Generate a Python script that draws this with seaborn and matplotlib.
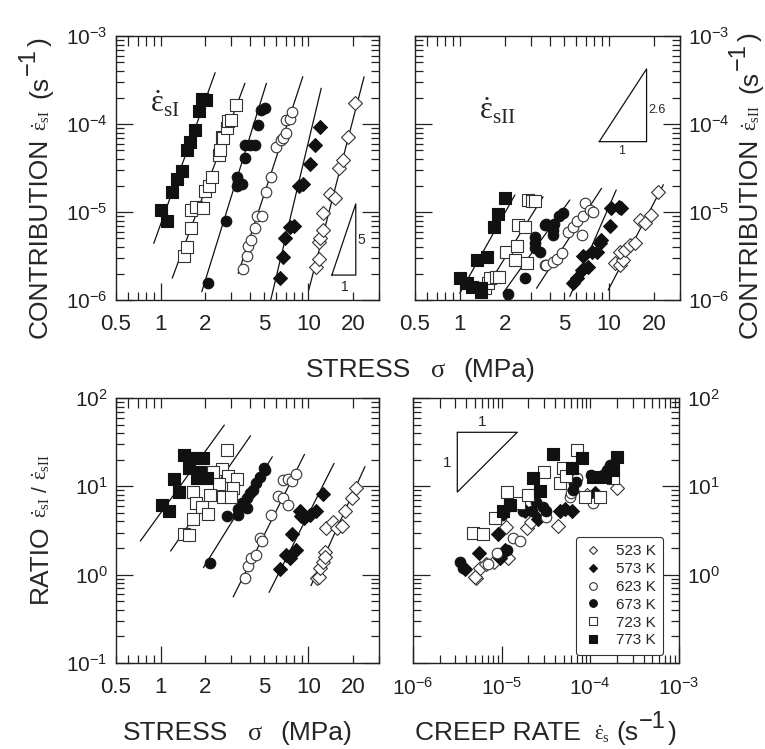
import numpy as np
import pandas as pd
import matplotlib
matplotlib.use("Agg")
import matplotlib.pyplot as plt
import seaborn as sns
from matplotlib.ticker import LogLocator, FixedLocator, FuncFormatter, NullFormatter, LogFormatterSciNotation
from matplotlib.lines import Line2D
from matplotlib.transforms import IdentityTransform

# ---------------- data ----------------
temps = ["523 K", "573 K", "623 K", "673 K", "723 K", "773 K"]

# top-left: contribution eps_sI vs stress
sI_sigma = {
    "773 K": [1.00, 1.11, 1.20, 1.29, 1.40, 1.50, 1.59, 1.72, 1.81, 1.90, 2.03],
    "723 K": [1.45, 1.51, 1.61, 1.61, 1.74, 1.93, 2.00, 2.14, 2.22, 2.50, 2.52, 2.59, 2.66, 2.80, 2.87, 2.98, 3.24],
    "673 K": [2.11, 2.77, 3.27, 3.33, 3.53, 3.27, 3.72, 3.72, 4.02, 4.34, 4.57, 4.81, 5.07],
    "623 K": [3.62, 3.82, 3.90, 4.12, 4.34, 4.46, 4.82, 5.20, 5.56, 6.07, 6.56, 6.70, 7.08, 7.10, 7.45, 7.77],
    "573 K": [6.39, 6.72, 6.97, 7.54, 8.05, 8.70, 9.16, 10.2, 11.0, 12.0],
    "523 K": [11.3, 11.7, 11.8, 11.9, 12.5, 12.5, 14.0, 15.2, 16.2, 17.0, 18.6, 20.7],
}
sI_rate = {
    "773 K": [1.05e-5, 7.9e-6, 1.7e-5, 2.37e-5, 2.9e-5, 5.1e-5, 6.2e-5, 8.5e-5, 1.4e-4, 1.9e-4, 1.85e-4],
    "723 K": [3.2e-6, 4.0e-6, 6.6e-6, 1.05e-5, 1.13e-5, 1.1e-5, 1.73e-5, 1.95e-5, 2.5e-5, 4.5e-5, 5.1e-5, 7.2e-5, 6.9e-5, 8.9e-5, 1.07e-4, 1.11e-4, 1.65e-4],
    "673 K": [1.58e-6, 7.9e-6, 1.95e-5, 2.2e-5, 2.1e-5, 2.5e-5, 4.1e-5, 5.7e-5, 5.7e-5, 5.7e-5, 9.8e-5, 1.44e-4, 1.53e-4],
    "623 K": [2.23e-6, 3.2e-6, 4.1e-6, 4.8e-6, 6.5e-6, 8.9e-6, 8.9e-6, 1.7e-5, 2.5e-5, 5.5e-5, 6.6e-5, 6.9e-5, 7.8e-5, 1.1e-4, 1.13e-4, 1.38e-4],
    "573 K": [1.8e-6, 3.1e-6, 5.0e-6, 6.7e-6, 6.9e-6, 1.95e-5, 2.1e-5, 3.5e-5, 5.7e-5, 9.3e-5],
    "523 K": [2.4e-6, 2.9e-6, 4.6e-6, 5.0e-6, 6.3e-6, 9.8e-6, 1.6e-5, 1.43e-5, 3.2e-5, 3.9e-5, 7.2e-5, 1.75e-4],
}
sI_line_sigma = {"773 K": [0.90, 2.34], "723 K": [1.20, 3.72], "673 K": [1.90, 5.20],
                 "623 K": [3.35, 9.16], "573 K": [5.56, 12.2], "523 K": [10.05, 23.8]}
sI_line_rate = {"773 K": [4.4e-6, 3.83e-4], "723 K": [1.77e-6, 2.9e-4], "673 K": [1.24e-6, 2.9e-4],
                "623 K": [2.0e-6, 3.45e-4], "573 K": [1.0e-6, 2.55e-4], "523 K": [1.3e-6, 3.45e-4]}

# top-right: contribution eps_sII vs stress
sII_sigma = {
    "773 K": [1.00, 1.11, 1.20, 1.38, 1.39, 1.31, 1.52, 1.70, 1.79, 2.00],
    "723 K": [1.47, 1.55, 1.59, 1.76, 1.84, 2.04, 2.34, 2.40, 2.46, 2.73, 2.80, 2.88, 3.03, 3.19],
    "673 K": [2.11, 2.73, 3.19, 3.19, 3.19, 3.44, 3.72, 3.80, 4.23, 4.23, 4.30, 4.64, 4.93],
    "623 K": [3.72, 3.80, 4.19, 4.46, 4.82, 5.34, 5.77, 6.07, 6.56, 6.73, 6.90, 7.45, 7.85],
    "573 K": [5.77, 6.07, 6.56, 7.27, 6.67, 7.65, 8.27, 8.70, 8.90, 10.1, 10.4, 11.6, 12.0],
    "523 K": [11.0, 11.8, 12.5, 11.8, 12.8, 13.8, 14.9, 16.1, 17.4, 19.3, 21.4],
}
sII_rate = {
    "773 K": [1.77e-6, 1.55e-6, 1.41e-6, 1.36e-6, 1.24e-6, 2.85e-6, 3.1e-6, 6.8e-6, 9.4e-6, 1.43e-5],
    "723 K": [1.36e-6, 1.55e-6, 1.77e-6, 1.84e-6, 1.84e-6, 3.5e-6, 2.85e-6, 4.1e-6, 7.1e-6, 6.8e-6, 2.6e-6, 1.37e-5, 1.32e-5, 1.32e-5],
    "673 K": [1.16e-6, 1.77e-6, 3.9e-6, 5.2e-6, 4.5e-6, 3.5e-6, 7.1e-6, 7.3e-6, 5.5e-6, 6.3e-6, 7.3e-6, 8.9e-6, 9.8e-6],
    "623 K": [2.5e-6, 2.5e-6, 2.7e-6, 2.95e-6, 3.4e-6, 6.0e-6, 6.8e-6, 7.8e-6, 5.5e-6, 8.9e-6, 1.26e-5, 1.05e-5, 1.0e-5],
    "573 K": [1.55e-6, 1.77e-6, 2.2e-6, 2.4e-6, 3.2e-6, 3.5e-6, 3.5e-6, 4.4e-6, 4.8e-6, 6.9e-6, 1.1e-5, 1.14e-5, 1.1e-5],
    "523 K": [2.6e-6, 2.5e-6, 2.85e-6, 3.5e-6, 3.7e-6, 4.2e-6, 4.4e-6, 8.1e-6, 7.5e-6, 9.2e-6, 1.7e-5],
}
sII_line_sigma = {"773 K": [1.0, 2.34], "723 K": [1.43, 3.62], "673 K": [1.95, 5.47],
                  "623 K": [3.27, 8.93], "573 K": [5.47, 11.2], "523 K": [9.9, 23.2]}
sII_line_rate = {"773 K": [1.2e-6, 1.56e-5], "723 K": [1.2e-6, 1.49e-5], "673 K": [1.2e-6, 1.37e-5],
                 "623 K": [1.36e-6, 1.86e-5], "573 K": [1.1e-6, 1.78e-5], "523 K": [1.3e-6, 2.04e-5]}

# bottom-left: ratio vs stress
ratio_sigma = {
    "773 K": [1.45, 1.66, 1.95, 1.55, 1.85, 1.76, 2.06, 1.24, 1.33, 1.03, 1.14],
    "723 K": [2.80, 2.59, 2.26, 2.87, 3.30, 2.50, 3.10, 1.66, 2.17, 2.66, 2.98, 1.74, 1.90, 2.08, 1.66, 1.45, 1.55],
    "673 K": [2.17, 2.83, 3.35, 3.86, 3.35, 3.53, 3.82, 4.02, 4.19, 4.41, 4.69, 4.99, 5.10],
    "623 K": [3.72, 3.92, 4.12, 4.39, 4.69, 4.85, 5.61, 6.23, 6.73, 7.27, 6.73, 7.27, 7.77, 8.27],
    "573 K": [6.46, 7.08, 7.50, 8.27, 7.77, 8.80, 9.40, 10.2, 11.3, 12.5, 8.9],
    "523 K": [11.5, 11.8, 12.0, 12.5, 13.0, 13.0, 13.1, 14.6, 15.7, 16.8, 17.7, 19.8, 20.9],
}
ratio_vals = {
    "773 K": [22.6, 20.7, 20.7, 16.0, 14.7, 12.3, 12.3, 12.0, 8.7, 6.1, 5.25],
    "723 K": [25.8, 15.7, 14.7, 13.2, 12.1, 10.5, 9.5, 8.6, 8.0, 7.6, 7.6, 6.4, 5.9, 4.9, 4.27, 2.86, 2.8],
    "673 K": [1.34, 4.65, 4.73, 5.63, 5.6, 6.4, 7.3, 8.3, 9.1, 10.8, 12.9, 16.0, 15.5],
    "623 K": [0.92, 1.26, 1.53, 1.67, 2.58, 2.4, 4.73, 7.8, 7.4, 6.1, 11.8, 12.1, 11.5, 13.7],
    "573 K": [1.16, 1.67, 1.53, 1.9, 2.86, 5.2, 4.35, 4.73, 5.2, 8.1, 4.6],
    "523 K": [0.91, 0.94, 1.18, 1.4, 1.82, 1.6, 3.34, 3.97, 3.34, 3.58, 5.2, 7.4, 9.7],
}
ratio_line_sigma = {"773 K": [0.73, 2.70], "723 K": [1.17, 4.06], "673 K": [1.95, 5.70],
                    "623 K": [3.1, 9.4], "573 K": [5.42, 14.9], "523 K": [10.4, 24.1]}
ratio_line_vals = {"773 K": [2.4, 49.4], "723 K": [1.85, 37.4], "673 K": [1.2, 21.6],
                   "623 K": [0.56, 23.0], "573 K": [0.63, 18.2], "523 K": [0.75, 16.7]}

# bottom-right: ratio vs creep rate
creep_rate = {
    "523 K": [5.2e-6, 5.0e-6, 5.7e-6, 6.6e-6, 8.2e-6, 1.19e-5, 1.12e-5, 1.91e-5, 2.12e-5, 4.3e-5, 9.1e-5, 1.98e-4],
    "573 K": [3.86e-6, 5.6e-6, 9.2e-6, 9.6e-6, 1.06e-5, 1.1e-5, 1.83e-5, 2.59e-5, 4.5e-5, 5.2e-5, 6.2e-5, 1.13e-4],
    "623 K": [7.1e-6, 8.8e-6, 1.35e-5, 1.61e-5, 3.2e-5, 5.9e-5, 6.0e-5, 7.0e-5, 1.06e-4],
    "673 K": [3.39e-6, 3.7e-6, 1.0e-5, 1.05e-5, 1.14e-5, 1.75e-5, 2.18e-5, 2.44e-5, 2.95e-5, 3.2e-5, 6.4e-5, 6.6e-5, 6.9e-5, 1.03e-4, 1.4e-4, 1.53e-4, 1.66e-4],
    "723 K": [4.7e-6, 6.1e-6, 8.4e-6, 1.16e-5, 1.24e-5, 1.58e-5, 2.0e-5, 3.0e-5, 4.5e-5, 4.95e-5, 7.0e-5, 8.7e-5, 1.28e-4, 1.81e-4, 5.3e-5],
    "773 K": [1.04e-5, 1.24e-5, 2.7e-5, 2.23e-5, 3.76e-5, 6.2e-5, 8.0e-5, 1.08e-4, 1.46e-4, 1.81e-4, 1.98e-4],
}
creep_ratio = {
    "523 K": [0.92, 0.95, 1.2, 1.31, 1.4, 1.55, 3.5, 3.34, 3.98, 3.58, 8.0, 9.5],
    "573 K": [1.16, 1.74, 2.86, 1.55, 1.82, 1.9, 5.25, 4.27, 5.25, 5.6, 5.25, 8.3],
    "623 K": [1.31, 1.74, 2.58, 2.4, 4.53, 7.6, 8.5, 12.3, 6.4],
    "673 K": [1.4, 1.2, 4.73, 5.2, 1.9, 5.25, 5.25, 6.6, 5.9, 5.2, 9.1, 11.0, 11.3, 13.4, 13.4, 15.3, 17.4],
    "723 K": [2.94, 2.86, 4.4, 8.7, 6.1, 6.4, 8.0, 14.7, 10.8, 16.3, 25.8, 7.6, 7.6, 12.3, 13.0],
    "773 K": [5.25, 6.1, 8.9, 12.3, 23.0, 16.0, 21.1, 12.9, 12.9, 15.3, 21.6],
}

# slope triangles (anchor, run end, slope)
tri_sI = dict(x0=14.4, x1=20.9, y0=1.92e-6, slope=5.0, label="5")
tri_sII = dict(x0=8.61, x1=17.9, y0=6.3e-5, slope=2.6, label="2.6")
tri_cr = dict(x0=3.16e-6, x1=1.5e-5, y0=40.9, slope=1.0)

# ---------------- style ----------------
sns.set_theme(style="ticks")
plt.rcParams["font.family"] = ["Liberation Sans", "DejaVu Sans"]
plt.rcParams["mathtext.fontset"] = "custom"
plt.rcParams["mathtext.rm"] = "Liberation Serif"
plt.rcParams["mathtext.it"] = "Liberation Serif:italic"
plt.rcParams["mathtext.bf"] = "Liberation Serif:bold"
plt.rcParams["mathtext.sf"] = "Liberation Sans"
plt.rcParams["axes.linewidth"] = 1.0
plt.rcParams["axes.edgecolor"] = "#222222"

mstyle = {
    "523 K": dict(marker="D", filled=False, s=50),
    "573 K": dict(marker="D", filled=True, s=50),
    "623 K": dict(marker="o", filled=False, s=58),
    "673 K": dict(marker="o", filled=True, s=58),
    "723 K": dict(marker="s", filled=False, s=64),
    "773 K": dict(marker="s", filled=True, s=64),
}

LOG_FS = 15
STRESS_FS = 16
LABEL_FS = 19
EPS_FS = 15
SUP_FS = 17

fig = plt.figure(figsize=(7.65, 7.49), dpi=100)
ax_tl = fig.add_axes([116/765, 1-300/749, 263/765, 264/749])
ax_tr = fig.add_axes([415/765, 1-300/749, 265/765, 264/749])
ax_bl = fig.add_axes([116/765, 1-663/749, 263/765, 265/749])
ax_br = fig.add_axes([413/765, 1-663/749, 266/765, 265/749])


def stress_fmt(v, pos):
    r = round(v, 6)
    lab = {0.5: "0.5", 1.0: "1", 2.0: "2", 5.0: "5", 10.0: "10", 20.0: "20"}
    return lab.get(r, "")


sci = LogFormatterSciNotation()


def make_yfmt(skip=()):
    def f(v, pos):
        if any(abs(v - s) / s < 1e-6 for s in skip):
            return ""
        return sci(v, pos)
    return FuncFormatter(f)


def setup(ax, xlim, ylim, stress_x, yright=False, yskip=()):
    ax.set_xscale("log")
    ax.set_yscale("log")
    ax.set_xlim(*xlim)
    ax.set_ylim(*ylim)
    if stress_x:
        ax.xaxis.set_major_locator(FixedLocator([1, 10]))
        ax.xaxis.set_minor_locator(LogLocator(base=10, subs=np.arange(2, 10), numticks=20))
        ax.xaxis.set_major_formatter(FuncFormatter(stress_fmt))
        ax.xaxis.set_minor_formatter(FuncFormatter(stress_fmt))
    else:
        ax.xaxis.set_major_locator(LogLocator(base=10, numticks=20))
        ax.xaxis.set_minor_locator(LogLocator(base=10, subs=np.arange(2, 10), numticks=20))
        ax.xaxis.set_major_formatter(LogFormatterSciNotation())
        ax.xaxis.set_minor_formatter(NullFormatter())
    ax.yaxis.set_major_locator(LogLocator(base=10, numticks=20))
    ax.yaxis.set_minor_locator(LogLocator(base=10, subs=np.arange(2, 10), numticks=20))
    ax.yaxis.set_major_formatter(make_yfmt(yskip))
    ax.yaxis.set_minor_formatter(NullFormatter())
    ax.tick_params(axis="both", which="both", direction="in", colors="#222222",
                   width=0.9, top=False, right=True, left=True, bottom=True)
    ax.tick_params(axis="y", which="both", labelsize=LOG_FS, pad=6)
    ax.tick_params(axis="x", which="both", labelsize=(STRESS_FS if stress_x else LOG_FS), pad=10)
    ax.tick_params(axis="both", which="major", length=12)
    ax.tick_params(axis="both", which="minor", length=6)
    if yright:
        ax.tick_params(axis="y", which="both", labelleft=False, labelright=True)
    # short ticks on top edge
    sec = ax.secondary_xaxis("top")
    if stress_x:
        sec.xaxis.set_major_locator(FixedLocator([1, 10]))
    else:
        sec.xaxis.set_major_locator(LogLocator(base=10, numticks=20))
    sec.xaxis.set_minor_locator(LogLocator(base=10, subs=np.arange(2, 10), numticks=20))
    sec.xaxis.set_major_formatter(NullFormatter())
    sec.xaxis.set_minor_formatter(NullFormatter())
    sec.tick_params(axis="x", which="both", direction="in", length=7, width=0.9, colors="#222222")
    sec.spines["top"].set_visible(False)
    for sp in ax.spines.values():
        sp.set_visible(True)
        sp.set_color("#222222")


def scatter_panel(ax, xs, ys):
    frames = []
    for t in temps:
        frames.append(pd.DataFrame({"x": xs[t], "y": ys[t], "T": t}))
    df = pd.concat(frames, ignore_index=True)
    for t in temps:
        st = mstyle[t]
        sub = df[df["T"] == t]
        sns.scatterplot(data=sub, x="x", y="y", marker=st["marker"], s=st["s"],
                        color=("#111111" if st["filled"] else "white"),
                        edgecolor=("#111111" if st["filled"] else "#333333"),
                        linewidth=0.8, ax=ax, legend=False, zorder=3)
    ax.set_xlabel("")
    ax.set_ylabel("")


def lines_panel(ax, lx, ly):
    for t in temps:
        ax.plot(lx[t], ly[t], color="#111111", lw=0.9, zorder=2)


def slope_triangle(ax, x0, x1, y0, slope):
    y1 = y0 * (x1 / x0) ** slope
    ax.plot([x0, x1, x1, x0], [y0, y0, y1, y0], color="#111111", lw=0.9)
    return y1


# ---- top-left
setup(ax_tl, (0.5, 30), (1e-6, 1e-3), True)
lines_panel(ax_tl, sI_line_sigma, sI_line_rate)
scatter_panel(ax_tl, sI_sigma, sI_rate)
slope_triangle(ax_tl, tri_sI["x0"], tri_sI["x1"], tri_sI["y0"], tri_sI["slope"])
ax_tl.text(0.934, 0.227, tri_sI["label"], transform=ax_tl.transAxes, fontsize=10, ha="center", va="center")
ax_tl.text(0.871, 0.05, "1", transform=ax_tl.transAxes, fontsize=10, ha="center", va="center")
ax_tl.text(0.13, 0.74, r"$\dot{\mathrm{\varepsilon}}_{\mathrm{sI}}$", transform=ax_tl.transAxes,
           fontsize=22, ha="left", va="center")

# ---- top-right
setup(ax_tr, (0.5, 30), (1e-6, 1e-3), True, yright=True)
lines_panel(ax_tr, sII_line_sigma, sII_line_rate)
scatter_panel(ax_tr, sII_sigma, sII_rate)
slope_triangle(ax_tr, tri_sII["x0"], tri_sII["x1"], tri_sII["y0"], tri_sII["slope"])
ax_tr.text(0.912, 0.72, tri_sII["label"], transform=ax_tr.transAxes, fontsize=9, ha="center", va="center")
ax_tr.text(0.78, 0.566, "1", transform=ax_tr.transAxes, fontsize=9, ha="center", va="center")
ax_tr.text(0.24, 0.715, r"$\dot{\mathrm{\varepsilon}}_{\mathrm{sII}}$", transform=ax_tr.transAxes,
           fontsize=22, ha="left", va="center")

# ---- bottom-left
setup(ax_bl, (0.5, 30), (0.1, 100), True)
lines_panel(ax_bl, ratio_line_sigma, ratio_line_vals)
scatter_panel(ax_bl, ratio_sigma, ratio_vals)

# ---- bottom-right
setup(ax_br, (1e-6, 1e-3), (0.1, 100), False, yright=True, yskip=(0.1,))
scatter_panel(ax_br, creep_rate, creep_ratio)
x0, x1, y0 = tri_cr["x0"], tri_cr["x1"], tri_cr["y0"]
y1 = y0 / (x1 / x0) ** tri_cr["slope"]
ax_br.plot([x0, x1, x0, x0], [y0, y0, y1, y0], color="#111111", lw=0.9)
ax_br.text(0.258, 0.911, "1", transform=ax_br.transAxes, fontsize=11, ha="center", va="center")
ax_br.text(0.127, 0.754, "1", transform=ax_br.transAxes, fontsize=11, ha="center", va="center")

handles = []
for t in temps:
    st = mstyle[t]
    handles.append(Line2D([], [], linestyle="none", marker=st["marker"],
                          markersize=(4.5 if st["marker"] == "D" else 5.5),
                          markerfacecolor=("#111111" if st["filled"] else "white"),
                          markeredgecolor=("#111111" if st["filled"] else "#333333"),
                          markeredgewidth=0.8, label=t))
leg = ax_br.legend(handles=handles, loc="lower right", bbox_to_anchor=(0.94, 0.03),
                   borderaxespad=0, fontsize=11, frameon=True, fancybox=True,
                   labelspacing=0.25, handletextpad=0.9, handlelength=1.2, borderpad=0.5)
leg.get_frame().set_edgecolor("#333333")
leg.get_frame().set_linewidth(0.8)
leg.get_frame().set_alpha(1)

# ---- axis titles, composed from pieces (pixel coordinates)
renderer = fig.canvas.get_renderer()
ident = IdentityTransform()


def chain_text(x, y, pieces, vertical):
    """pieces: (text, fontsize, gap_before_px, baseline_raise_px)"""
    pos = x if not vertical else y
    for s, fs, gap, raise_px in pieces:
        pos += gap
        if vertical:
            t = fig.text(x - raise_px, pos, s, fontsize=fs, rotation=90, rotation_mode="anchor",
                         ha="left", va="baseline", transform=ident)
            pos = t.get_window_extent(renderer).y1
        else:
            t = fig.text(pos, y + raise_px, s, fontsize=fs, ha="left", va="baseline", transform=ident)
            pos = t.get_window_extent(renderer).x1


eps_I = r"$\dot{\mathrm{\varepsilon}}_{\mathrm{sI}}$"
eps_II = r"$\dot{\mathrm{\varepsilon}}_{\mathrm{sII}}$"
eps_s = r"$\dot{\mathrm{\varepsilon}}_{\mathrm{s}}$"


def unit_pieces(gap):
    return [("(s", LABEL_FS, gap, 0), ("\u22121", SUP_FS, 1, 12), (")", LABEL_FS, 2, 0)]


chain_text(47, 749 - 338, [("CONTRIBUTION", LABEL_FS, 0, 0), (eps_I, EPS_FS, 7, 0)] + unit_pieces(12), True)
chain_text(757, 749 - 338, [("CONTRIBUTION", LABEL_FS, 0, 0), (eps_II, EPS_FS, 7, 0)] + unit_pieces(12), True)
chain_text(47, 749 - 603, [("RATIO", LABEL_FS, 0, 0), (eps_I, EPS_FS, 6, 0), ("/", EPS_FS, 6, 0),
                           (eps_II, EPS_FS, 6, 0)], True)
chain_text(306, 749 - 377, [("STRESS", LABEL_FS, 0, 0), (r"$\mathrm{\sigma}$", LABEL_FS, 19, 0),
                            ("(MPa)", LABEL_FS, 17, 0)], False)
chain_text(123, 749 - 740, [("STRESS", LABEL_FS, 0, 0), (r"$\mathrm{\sigma}$", LABEL_FS, 19, 0),
                            ("(MPa)", LABEL_FS, 17, 0)], False)
chain_text(415, 749 - 740, [("CREEP RATE", LABEL_FS, 0, 0), (eps_s, EPS_FS, 13, 0)] + unit_pieces(6), False)

fig.savefig("out.png", dpi=100, facecolor="white")
